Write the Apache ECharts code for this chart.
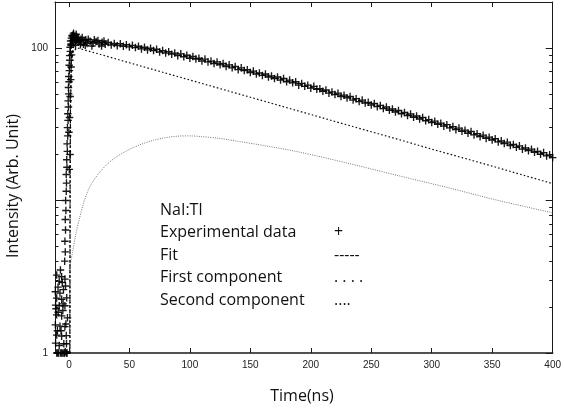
<!DOCTYPE html>
<html>
<head>
<meta charset="utf-8">
<script src="https://cdn.jsdelivr.net/npm/echarts@6/dist/echarts.min.js"></script>
<style>
html,body{margin:0;padding:0;background:#fff;}
#chart{width:564px;height:411px;}
</style>
</head>
<body>
<div id="chart"></div>
<script>
// ---- axis ticks / labels ----
const xTicks = [0, 50, 100, 150, 200, 250, 300, 350, 400];
const yMajorTicks = [1, 10, 100];
const yLabelTicks = [1, 100];
const yMinorTicks = [2, 3, 4, 5, 6, 7, 8, 9, 20, 30, 40, 50, 60, 70, 80, 90, 200];

// ---- experimental data ----
// background before the pulse [time ns, intensity]
const prePulse = [
  [-10.1, 3.24], [-6, 3.16], [-3.3, 3.05], [-11.2, 2.52], [-7.4, 2.47], [-10.1, 2.29], [-6, 2.25],
  [-8, 2.04], [-3.3, 2.04], [-11, 2.06], [-10.1, 1.78], [-6, 1.75], [-11.2, 1.53], [-7.4, 1.5],
  [-3.3, 1.49], [-10.1, 1.31], [-6, 1.29], [-11, 1.16], [-8, 1.12], [-10.1, 1.0], [-6, 1.0],
  [-2, 1.0], [-4, 1.0], [-8.5, 1.0], [-3, 1.02], [-1.5, 1.0], [-5, 1.9], [-9, 2.7], [-4.5, 2.6],
  [-2.2, 1.3], [-7, 3.5], [-1.8, 2.3], [-4.2, 1.15], [-9.5, 1.4], [-7, 1.0], [-5, 1.0],
  [-2.5, 1.55], [-8.8, 1.85], [-4.8, 2.1], [-2.8, 2.75], [-9.2, 1.0], [-3.6, 1.0], [-6.5, 1.4],
  [-1.2, 1.7], [-5.5, 2.9], [-10.6, 1.95], [-8, 2.95], [-2, 1.15]
];
// rising edge and early maximum [time ns, intensity]
const riseEdge = [
  [-3.5, 4.0], [-3.0, 4.6], [-3.3, 5.4], [-2.8, 6.4], [-3.0, 7.5], [-2.5, 8.6], [-2.7, 10.0],
  [-2.2, 11.5], [-2.0, 13.0], [-2.2, 14.8], [-1.6, 16.5], [-1.8, 18.5], [-1.3, 21], [-1.5, 23.5],
  [-1.0, 26.5], [-1.2, 30], [-0.7, 33.5], [-0.9, 37], [-0.4, 41], [-0.6, 45], [-0.2, 50],
  [-0.4, 55], [0.1, 60], [-0.1, 65], [0.4, 71], [0.2, 77], [0.8, 83], [0.6, 89], [1.2, 95],
  [1.0, 101], [1.6, 106], [1.4, 111], [2.0, 116], [2.5, 120], [3.2, 118], [4.0, 121], [1.8, 104],
  [2.8, 112], [3.6, 108], [4.5, 115], [6, 112], [7, 117], [8.5, 111], [10, 114], [12, 105.5],
  [14, 113], [3, 121], [4.5, 118], [6, 123], [8, 116], [9.5, 105], [11, 117], [13.5, 104],
  [16, 114], [19, 103], [21, 113], [24, 112], [27, 103], [29, 111], [5.5, 104], [3.8, 125],
  [0.5, 35], [1.0, 48], [0.0, 28], [1.5, 62], [0.9, 20], [2.2, 90], [0.3, 16], [1.8, 75]
];
// decay part, sampled every 2.5 ns starting at 2.5 ns
const decayStart = 2.5;
const decayStep = 2.5;
const decayValues = [
  106, 114, 110, 108, 112, 107, 110.5, 107.5, 110, 106, 109, 105.5, 108.5, 104.5, 107, 103.5,
  106.5, 102.5, 105, 101.5, 104, 100.5, 102.5, 98.5, 101, 97, 99.5, 96, 98, 94, 96, 92.5,
  94.5, 91, 92.5, 89, 91.5, 87.5, 89.5, 85.5, 88, 84.5, 85.5, 82, 84.5, 81, 82, 79,
  81, 77.5, 79, 75.5, 77.5, 74, 75.5, 72, 74, 71, 72, 69, 70.5, 67.5, 68.5, 66,
  67.5, 64.5, 65.5, 63, 64.5, 61.5, 63, 60, 61.5, 59, 60, 57, 58.5, 56, 57, 54.5,
  56, 53.5, 54, 52, 53, 50.5, 51.5, 49.5, 50.5, 48, 49, 47, 48, 45.5, 46.5, 44.5,
  45.5, 43.5, 44, 42.2, 43.2, 41.2, 42, 40, 41, 39, 39.8, 38, 38.9, 37, 37.7, 36,
  36.9, 35.1, 35.8, 34.2, 35, 33.3, 33.9, 32.4, 33.1, 31.6, 32.1, 30.7, 31.4, 29.9, 30.5, 29.1,
  29.8, 28.4, 28.9, 27.6, 28.3, 26.9, 27.4, 26.2, 26.8, 25.5, 26, 24.9, 25.4, 24.2, 24.6, 23.6,
  24.1, 22.9, 23.3, 22.3, 22.8, 21.7, 22.1, 21.2, 21.7, 20.7, 21, 20.1, 20.6, 19.6, 19.9, 19.1
];

// ---- fit ----
const fitTime  = [0.8, 0.9, 1.0, 1.3, 2, 3.5, 6, 10, 20, 30, 40, 50, 60, 70, 80, 90, 100, 120, 140, 160, 180, 200, 220, 240, 260, 280, 300, 320, 340, 360, 380, 400];
const fitValue = [1, 4, 13, 40, 80, 100, 108.5, 109.6, 108.6, 107.2, 105.2, 102.8, 100, 97, 93.8, 90.4, 86.9, 80, 73.3, 66.8, 61, 55.3, 50, 45.1, 40.6, 36.5, 32.8, 29.5, 26.5, 23.9, 21.5, 19.3];

// ---- first component ----
const firstTime  = [0.8, 0.9, 1.0, 1.3, 2, 3.5, 7, 25, 50, 75, 100, 125, 150, 175, 200, 225, 250, 275, 300, 325, 350, 375, 400];
const firstValue = [1, 5, 15, 45, 80, 95, 100, 91.1, 79.9, 70.2, 61.6, 54.1, 47.5, 41.7, 36.6, 32.1, 28.2, 24.8, 21.7, 19.1, 16.8, 14.7, 12.9];

// ---- second component ----
const secondTime  = [0.6, 0.8, 3, 6, 9, 12, 15, 18, 22, 26, 32, 40, 50, 60, 70, 80, 90, 100, 110, 125, 140, 160, 190, 230, 273, 314, 355, 400];
const secondValue = [1.3, 3.55, 4.57, 6.17, 7.76, 9.55, 11.2, 12.6, 14.1, 15.5, 17.4, 19.5, 21.6, 23.4, 24.8, 25.8, 26.4, 26.5, 26.2, 25.5, 24.4, 23.0, 20.8, 17.6, 14.5, 12.1, 10, 8.3];

// ---- legend text ----
const legendTitle = 'NaI:Tl';
const legendNames = ['Experimental data', 'Fit', 'First component', 'Second component'];
const legendMarks = ['+', '-----', '. . . .', '....'];
const xTitle = 'Time(ns)';
const yTitle = 'Intensity (Arb. Unit)';

// ---------------------------------------------------------------
const zip = (a, b) => a.map((v, i) => [v, b[i]]);
const expData = prePulse.concat(riseEdge, decayValues.map((v, i) => [decayStart + i * decayStep, v]));

const plusPath = 'path://M4.1,0H5.9V4.1H10V5.9H5.9V10H4.1V5.9H0V4.1H4.1Z';
const axisColor = '#1a1a1a';
const tickFont = { fontFamily: 'Liberation Sans', fontSize: 10, color: '#222' };
const titleFontCss = '16px "Open Sans"';

const X_MIN = -11.5, X_MAX = 400, Y_MIN = 1, Y_MAX = 200;

function xAx(pos, showLabel, lw) {
  return {
    type: 'value', position: pos, min: X_MIN, max: X_MAX,
    axisLine: { show: true, onZero: false, lineStyle: { color: axisColor, width: lw } },
    axisTick: { show: true, inside: true, length: 5, customValues: xTicks, lineStyle: { color: axisColor } },
    axisLabel: Object.assign({ show: showLabel, customValues: xTicks, margin: 7 }, tickFont),
    splitLine: { show: false }
  };
}
function yAx(pos, ticks, len, showLine, showLabel) {
  return {
    type: 'log', logBase: 10, position: pos, min: Y_MIN, max: Y_MAX, offset: 0,
    axisLine: { show: showLine, onZero: false, lineStyle: { color: axisColor, width: 1 } },
    axisTick: { show: true, inside: true, length: len, customValues: ticks, lineStyle: { color: axisColor } },
    axisLabel: Object.assign({ show: showLabel, customValues: yLabelTicks, margin: 7 }, tickFont),
    minorTick: { show: false },
    splitLine: { show: false }
  };
}

const legendGraphics = [];
const LX = 160, LY0 = 210, LDY = 22.5, MX = 334;
const gText = (x, y, t) => ({ type: 'text', x: x, y: y, style: { text: t, font: titleFontCss, fill: '#111', verticalAlign: 'middle', align: 'left' } });
legendGraphics.push(gText(LX, LY0, legendTitle));
legendNames.forEach((n, i) => {
  legendGraphics.push(gText(LX, LY0 + LDY * (i + 1), n));
  legendGraphics.push(gText(MX, LY0 + LDY * (i + 1), legendMarks[i]));
});
legendGraphics.push({ type: 'text', x: 302, y: 396, style: { text: xTitle, font: titleFontCss, fill: '#111', verticalAlign: 'middle', align: 'center' } });
legendGraphics.push({ type: 'text', x: 13, y: 186, rotation: Math.PI / 2, style: { text: yTitle, font: titleFontCss, fill: '#111', verticalAlign: 'middle', align: 'center' } });

const option = {
  animation: false,
  backgroundColor: '#fff',
  grid: { left: 55, right: 10, top: 2, bottom: 58, containLabel: false },
  xAxis: [xAx('bottom', true, 1.6), xAx('top', false, 1)],
  yAxis: [
    yAx('left', yMajorTicks, 7, true, true),
    yAx('left', yMinorTicks, 3.5, false, false),
    yAx('right', yMajorTicks, 7, true, false),
    yAx('right', yMinorTicks, 3.5, false, false)
  ],
  graphic: legendGraphics,
  series: [
    {
      name: 'Second component', type: 'line', xAxisIndex: 0, yAxisIndex: 0,
      data: zip(secondTime, secondValue), showSymbol: false, smooth: 0.3,
      lineStyle: { color: '#777', width: 1, type: [1, 1.3] }, z: 2
    },
    {
      name: 'First component', type: 'line', xAxisIndex: 0, yAxisIndex: 0,
      data: zip(firstTime, firstValue), showSymbol: false,
      lineStyle: { color: '#111', width: 1.2, type: [1.6, 2.2] }, z: 2
    },
    {
      name: 'Fit', type: 'line', xAxisIndex: 0, yAxisIndex: 0,
      data: zip(fitTime, fitValue), showSymbol: false,
      lineStyle: { color: '#111', width: 1.2, type: [3, 2] }, z: 3
    },
    {
      name: 'Experimental data', type: 'scatter', xAxisIndex: 0, yAxisIndex: 0,
      data: expData, symbol: plusPath, symbolSize: 7.5,
      itemStyle: { color: '#000', opacity: 0.9 }, z: 4
    }
  ]
};

const chart = echarts.init(document.getElementById('chart'), null, { renderer: 'canvas' });
chart.setOption(option);
</script>
</body>
</html>
